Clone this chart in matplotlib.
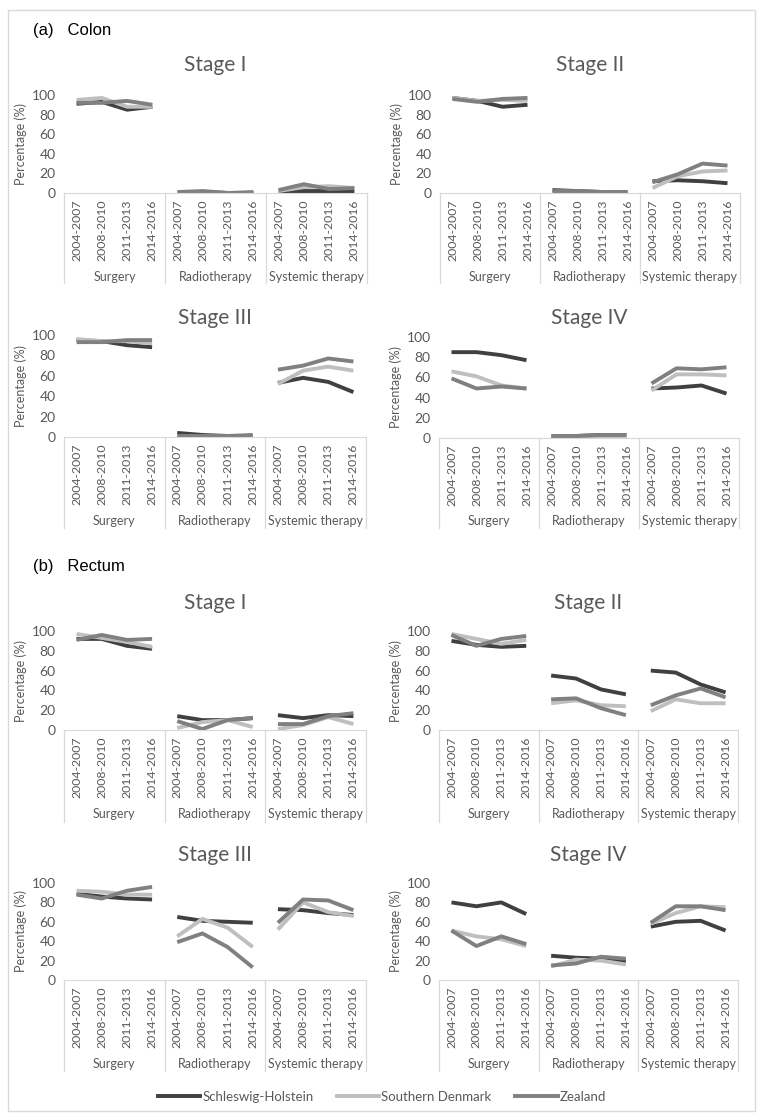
'''Treatment trends by stage, colon and rectum'''
import matplotlib
matplotlib.use('Agg')
import matplotlib.pyplot as plt
from matplotlib.lines import Line2D
from matplotlib.patches import Rectangle

plt.rcParams['font.family'] = ['Lato', 'DejaVu Sans']

W, H = 764, 1116

PERIODS = ['2004-2007', '2008-2010', '2011-2013', '2014-2016']
TREATMENTS = ['Surgery', 'Radiotherapy', 'Systemic therapy']
REGIONS = ['Schleswig-Holstein', 'Southern Denmark', 'Zealand']
COLORS = ['#404040', '#bfbfbf', '#808080']

# values per region: surgery(4), radiotherapy(4), systemic therapy(4)
colon_I_sh = [91, 93, 85, 88, 1, 1, 0, 0, 2, 2, 2, 1]
colon_I_sd = [95, 97, 88, 88, 0, 1, 0, 0, 2, 6, 7, 5]
colon_I_z = [92, 92, 94, 90, 1, 2, 0, 1, 3, 9, 4, 5]

colon_II_sh = [97, 94, 88, 90, 3, 2, 1, 1, 12, 13, 12, 10]
colon_II_sd = [97, 94, 95, 94, 1, 1, 1, 0, 5, 17, 22, 23]
colon_II_z = [96, 93, 96, 97, 2, 2, 1, 1, 11, 19, 30, 28]

colon_III_sh = [95, 94, 90, 88, 4, 2, 1, 1, 53, 58, 54, 44]
colon_III_sd = [96, 94, 94, 92, 1, 1, 1, 1, 52, 65, 69, 65]
colon_III_z = [93, 93, 95, 95, 1, 1, 1, 2, 66, 70, 77, 74]

colon_IV_sh = [85, 85, 82, 77, 2, 2, 3, 3, 49, 50, 52, 44]
colon_IV_sd = [66, 61, 52, 49, 2, 2, 2, 2, 47, 63, 63, 62]
colon_IV_z = [59, 49, 51, 49, 2, 2, 3, 3, 54, 69, 68, 70]

rectum_I_sh = [92, 92, 85, 82, 14, 10, 10, 12, 15, 12, 15, 14]
rectum_I_sd = [97, 93, 89, 84, 2, 8, 10, 3, 1, 5, 13, 6]
rectum_I_z = [91, 96, 91, 92, 9, 1, 10, 12, 6, 6, 14, 17]

rectum_II_sh = [90, 86, 84, 85, 55, 52, 41, 36, 60, 58, 46, 38]
rectum_II_sd = [97, 92, 87, 91, 27, 30, 25, 24, 19, 31, 27, 27]
rectum_II_z = [96, 85, 92, 95, 31, 32, 22, 15, 25, 35, 42, 33]

rectum_III_sh = [89, 86, 84, 83, 65, 61, 60, 59, 73, 72, 69, 67]
rectum_III_sd = [92, 91, 88, 88, 45, 63, 54, 34, 52, 80, 70, 66]
rectum_III_z = [88, 84, 92, 96, 39, 48, 34, 13, 59, 83, 82, 72]

rectum_IV_sh = [80, 76, 80, 68, 25, 23, 22, 19, 55, 60, 61, 51]
rectum_IV_sd = [51, 45, 42, 35, 14, 21, 20, 16, 58, 69, 76, 75]
rectum_IV_z = [51, 35, 45, 37, 15, 17, 24, 22, 59, 76, 76, 72]


def px_axes(fig, x0, y0, x1, y1):
	# pixel box (top-left origin) -> figure axes
	return fig.add_axes([x0 / W, 1 - y1 / H, (x1 - x0) / W, (y1 - y0) / H])


def make_panel(fig, box, title, series, title_y, box_bottom, group_y):
	x0, y0, x1, y1 = box
	ax = px_axes(fig, x0, y0, x1, y1)
	for vals, col in zip(series, COLORS):
		for g in range(3):
			xs = [g * 4 + i + 0.5 for i in range(4)]
			ax.plot(xs, vals[g * 4:(g + 1) * 4], color=col, lw=2.8, solid_capstyle='butt')
	ax.set_xlim(0, 12)
	ax.set_ylim(0, 100)
	ax.set_yticks([0, 20, 40, 60, 80, 100])
	ax.tick_params(axis='y', length=0, labelsize=10, colors='#595959', pad=6)
	ax.set_xticks([i + 0.5 for i in range(12)])
	ax.set_xticklabels(PERIODS * 3, rotation=90, fontsize=8.8, color='#595959')
	ax.tick_params(axis='x', length=0, pad=5)
	for s in ['top', 'right', 'left']:
		ax.spines[s].set_visible(False)
	ax.spines['bottom'].set_color('#d9d9d9')
	ax.set_ylabel('Percentage (%)', fontsize=9, color='#595959', labelpad=3)

	# category box lines below the axis
	xw = (x1 - x0) / 12.0
	for k in range(4):
		xp = x0 + k * 4 * xw
		fig.add_artist(Line2D([xp / W, xp / W], [1 - y1 / H, 1 - box_bottom / H],
			color='#d9d9d9', lw=0.9))
	for g, name in enumerate(TREATMENTS):
		xc = x0 + (g * 4 + 2) * xw
		fig.text(xc / W, 1 - group_y / H, name, ha='center', va='center',
			fontsize=9, color='#595959')
	fig.text((x0 + x1) / 2 / W, 1 - title_y / H, title, ha='center', va='center',
		fontsize=15, color='#595959')
	return ax


def main():
	fig = plt.figure(figsize=(W / 100, H / 100), dpi=100)
	fig.add_artist(Rectangle((8 / W, 1 - 1111 / H), (755 - 8) / W, (1111 - 10) / H,
		fill=False, edgecolor='#d9d9d9', lw=1))

	fig.text(33 / W, 1 - 31 / H, '(a)   Colon', fontsize=12, family='Liberation Sans', va='center')
	fig.text(33 / W, 1 - 567 / H, '(b)   Rectum', fontsize=12, family='Liberation Sans', va='center')

	make_panel(fig, (64, 95, 367, 193), 'Stage I', [colon_I_sh, colon_I_sd, colon_I_z], 65, 283, 277)
	make_panel(fig, (440, 95, 740, 193), 'Stage II', [colon_II_sh, colon_II_sd, colon_II_z], 65, 283, 277)
	make_panel(fig, (64, 335, 366, 437), 'Stage III', [colon_III_sh, colon_III_sd, colon_III_z], 318, 528, 521)
	make_panel(fig, (439, 337, 739, 438), 'Stage IV', [colon_IV_sh, colon_IV_sd, colon_IV_z], 318, 528, 521)

	make_panel(fig, (64, 631, 366, 730), 'Stage I', [rectum_I_sh, rectum_I_sd, rectum_I_z], 603, 822, 814)
	make_panel(fig, (439, 631, 738, 730), 'Stage II', [rectum_II_sh, rectum_II_sd, rectum_II_z], 603, 822, 814)
	make_panel(fig, (64, 883, 366, 980), 'Stage III', [rectum_III_sh, rectum_III_sd, rectum_III_z], 855, 1071, 1064)
	make_panel(fig, (439, 883, 738, 980), 'Stage IV', [rectum_IV_sh, rectum_IV_sd, rectum_IV_z], 855, 1071, 1064)

	handles = [Line2D([], [], color=c, lw=2.8) for c in COLORS]
	fig.legend(handles, REGIONS, loc='center', bbox_to_anchor=(0.5, 1 - 1097 / H),
		ncol=3, frameon=False, fontsize=9.5, handlelength=3.2, handletextpad=0.15,
		columnspacing=1.8, labelcolor='#595959')

	fig.savefig('out.png', dpi=100)


if __name__ == '__main__':
	main()
